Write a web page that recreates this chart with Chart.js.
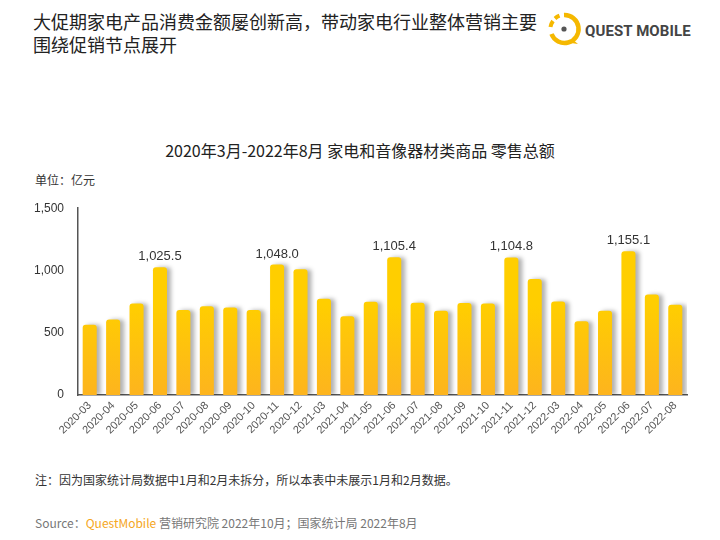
<!DOCTYPE html>
<html>
<head>
<meta charset="utf-8">
<script src="https://cdn.jsdelivr.net/npm/chart.js@4"></script>
<style>
  body { margin: 0; width: 720px; height: 540px; background: #fff; position: relative; overflow: hidden;
         font-family: "Noto Sans CJK SC", "Noto Sans", sans-serif; color: #222; }
  .headline { position: absolute; left: 33px; top: 10px; font-size: 18px; line-height: 23px; color: #222; }
  .logo { position: absolute; left: 545px; top: 10px; }
  .logo-text { position: absolute; left: 585px; top: 22px; font-family: "Roboto", sans-serif; font-weight: bold;
               font-size: 15px; color: #444; letter-spacing: 0.1px; }
  .ctitle { position: absolute; left: 0; width: 720px; top: 138px; text-align: center; font-size: 16px; color: #222; }
  .unit { position: absolute; left: 35px; top: 171px; font-size: 12px; color: #333; }
  .note { position: absolute; left: 35px; top: 471px; font-size: 12px; color: #333; }
  .source { position: absolute; left: 35px; top: 514px; font-size: 12px; color: #777; }
  .source span { color: #F5A623; }
  #wrap { position: absolute; left: 0; top: 187px; width: 720px; height: 270px; }
</style>
</head>
<body>
<div class="headline">大促期家电产品消费金额屡创新高，带动家电行业整体营销主要<br>围绕促销节点展开</div>
<svg class="logo" width="38" height="38" viewBox="0 0 38 38">
  <path d="M19 5 A14 14 0 1 1 6.5 24" fill="none" stroke="#F5B800" stroke-width="4.5"/>
  <path d="M27 29 L33 34 L26 33 Z" fill="#F5B800"/>
  <path d="M5.5 17 A14 14 0 0 1 8 11" fill="none" stroke="#F5B800" stroke-width="4"/>
  <path d="M10 8.5 A14 14 0 0 1 14.5 5.7" fill="none" stroke="#F5B800" stroke-width="4"/>
  <circle cx="19" cy="19" r="2.6" fill="#555"/>
</svg>
<div class="logo-text">QUEST MOBILE</div>
<div class="ctitle">2020年3月-2022年8月 家电和音像器材类商品 零售总额</div>
<div class="unit">单位：亿元</div>
<div id="wrap"><canvas id="retail-chart"></canvas></div>
<div class="note">注：因为国家统计局数据中1月和2月未拆分，所以本表中未展示1月和2月数据。</div>
<div class="source">Source：<span>QuestMobile</span> 营销研究院 2022年10月；国家统计局 2022年8月</div>
<script>
var months = ['2020-03', '2020-04', '2020-05', '2020-06', '2020-07', '2020-08', '2020-09', '2020-10', '2020-11', '2020-12',
  '2021-03', '2021-04', '2021-05', '2021-06', '2021-07', '2021-08', '2021-09', '2021-10', '2021-11', '2021-12',
  '2022-03', '2022-04', '2022-05', '2022-06', '2022-07', '2022-08'];
var retailSales = [565, 606, 735, 1025.5, 683, 713, 703, 683, 1048.0, 1009,
  773, 633, 748, 1105.4, 740, 676, 738, 735, 1104.8, 931,
  751, 592, 676, 1155.1, 808, 724];
var labelledMonths = ['2020-06', '2020-11', '2021-06', '2021-11', '2022-06'];
var yTicks = [0, 500, 1000, 1500];

// each bar gets its own yellow -> orange gradient, plus a soft grey shadow on the right
var barStyle = {
  id: 'barStyle',
  beforeDatasetsDraw: function(chart) {
    var ctx = chart.ctx;
    chart.getDatasetMeta(0).data.forEach(function(bar) {
      var g = ctx.createLinearGradient(0, bar.y, 0, bar.base);
      g.addColorStop(0, '#FFCE00');
      g.addColorStop(1, '#FDB41E');
      bar.options.backgroundColor = g;
    });
    ctx.save();
    ctx.shadowColor = 'rgba(0,0,0,0.3)';
    ctx.shadowBlur = 4;
    ctx.shadowOffsetX = 4;
    ctx.shadowOffsetY = 0;
  },
  afterDatasetsDraw: function(chart) {
    var ctx = chart.ctx;
    ctx.restore();
    var meta = chart.getDatasetMeta(0);
    ctx.save();
    ctx.font = '13px "Liberation Sans", Arial, sans-serif';
    ctx.fillStyle = '#333';
    ctx.textAlign = 'center';
    ctx.textBaseline = 'bottom';
    meta.data.forEach(function(bar, i) {
      if (labelledMonths.indexOf(months[i]) < 0) return;
      var v = retailSales[i].toLocaleString('en-US', { minimumFractionDigits: 1, maximumFractionDigits: 1 });
      ctx.fillText(v, bar.x, bar.y - 4);
    });
    ctx.restore();
  }
};

var ctx = document.getElementById('retail-chart').getContext('2d');
new Chart(ctx, {
  type: 'bar',
  data: {
    labels: months,
    datasets: [{
      data: retailSales,
      backgroundColor: '#FFC400',
      borderRadius: { topLeft: 3, topRight: 3 },
      borderSkipped: 'bottom',
      barPercentage: 0.6,
      categoryPercentage: 1
    }]
  },
  options: {
    responsive: true,
    maintainAspectRatio: false,
    animation: false,
    layout: { padding: { left: 0, right: 33, top: 5, bottom: 0 } },
    plugins: { legend: { display: false }, tooltip: { enabled: false } },
    scales: {
      x: {
        grid: { display: false, drawTicks: false },
        border: { display: true, color: '#555', width: 1.5 },
        ticks: {
          color: '#555',
          font: { family: '"Liberation Sans", Arial, sans-serif', size: 11 },
          maxRotation: 45, minRotation: 45, autoSkip: false, padding: 4
        },
        afterFit: function(scale) { scale.height = 62; }
      },
      y: {
        min: 0, max: 1500,
        grid: { display: false, drawTicks: false },
        border: { display: true, color: '#555', width: 1.5 },
        afterBuildTicks: function(scale) {
          scale.ticks = yTicks.map(function(v) { return { value: v }; });
        },
        ticks: {
          color: '#333',
          padding: 14,
          font: { family: '"Liberation Sans", Arial, sans-serif', size: 12 },
          callback: function(v) { return v.toLocaleString('en-US'); }
        },
        afterFit: function(scale) { scale.width = 78; }
      }
    }
  },
  plugins: [barStyle]
});
</script>
</body>
</html>
